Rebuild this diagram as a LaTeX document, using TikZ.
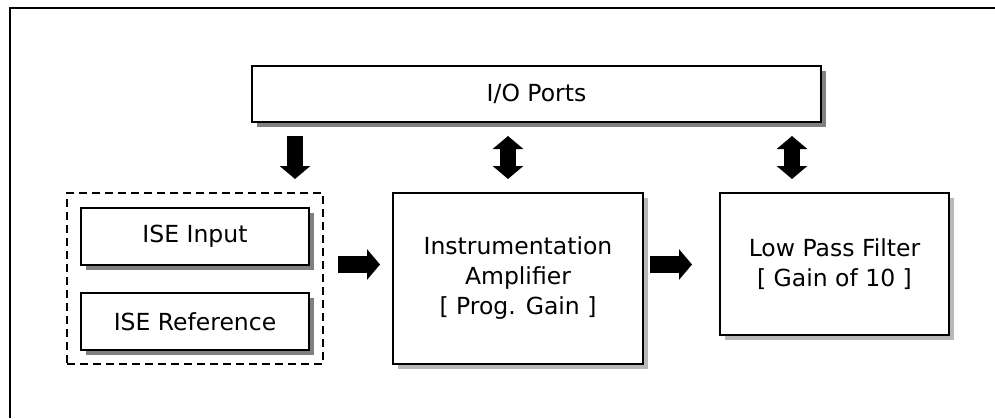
\documentclass[tikz,border=0pt]{standalone}
\usepackage{fontspec}
\setmainfont{DejaVu Sans}
\usetikzlibrary{arrows.meta,shadows,positioning,calc}

\begin{document}
\begin{tikzpicture}[x=1pt,y=-1pt,every text node part/.style={align=center},text=black,
	box/.style={draw=black,line width=2pt,fill=white,font=\fontsize{23.5}{30}\selectfont},
	darkshadow/.style={drop shadow={shadow xshift=5pt,shadow yshift=-5pt,fill=black!50,opacity=1}},
	lightshadow/.style={drop shadow={shadow xshift=5pt,shadow yshift=-5pt,fill=black!28,opacity=1}},
	groupbox/.style={draw=black,line width=2pt,dash pattern=on 8pt off 5pt},
	blockarrow/.style={line width=16.5pt,-{Triangle[width=30pt,length=13pt]}},
	dblarrow/.style={line width=16.5pt,{Triangle[width=30pt,length=13pt]}-{Triangle[width=30pt,length=13pt]}}]

	\useasboundingbox (0,0) rectangle (995,418);

	% frame
	\draw[line width=2pt] (995,8) -- (10,8) -- (10,418);

	% blocks
	\node (io) [box,darkshadow,minimum width=569pt,minimum height=56pt] at (536.5,94) {I/O Ports};

	\node (grp) [groupbox,minimum width=256pt,minimum height=171pt] at (195,278.5) {};
	\node (isein) [box,darkshadow,minimum width=228pt,minimum height=57pt] at (195,236.5) {ISE Input};
	\node (iseref) [box,darkshadow,minimum width=228pt,minimum height=57pt] at (195,321.5) {ISE Reference};

	\node (amp) [box,lightshadow,minimum width=250pt,minimum height=171pt] at (518,278.5)
		{Instrumentation\\Amplifier\\{[} Prog. Gain ]};
	\node (lpf) [box,lightshadow,minimum width=229pt,minimum height=142pt] at (834.5,264)
		{Low Pass Filter\\{[} Gain of 10 ]};

	% connections
	\coordinate (c1) at (295,0);
	\coordinate (c2) at (508,0);
	\coordinate (c3) at (792,0);
	\coordinate (row) at (0,264.5);

	\draw[blockarrow,shorten <=13pt,shorten >=13pt] (io.south -| c1) -- (grp.north -| c1);
	\draw[dblarrow,shorten <=13pt,shorten >=13pt] (io.south -| c2) -- (amp.north -| c2);
	\draw[dblarrow,shorten <=13pt,shorten >=13pt] (io.south -| c3) -- (lpf.north -| c3);

	\draw[blockarrow,shorten <=14pt,shorten >=12pt] (grp.east |- row) -- (amp.west |- row);
	\draw[blockarrow,shorten <=6pt,shorten >=27pt] (amp.east |- row) -- (lpf.west |- row);
\end{tikzpicture}
\end{document}
